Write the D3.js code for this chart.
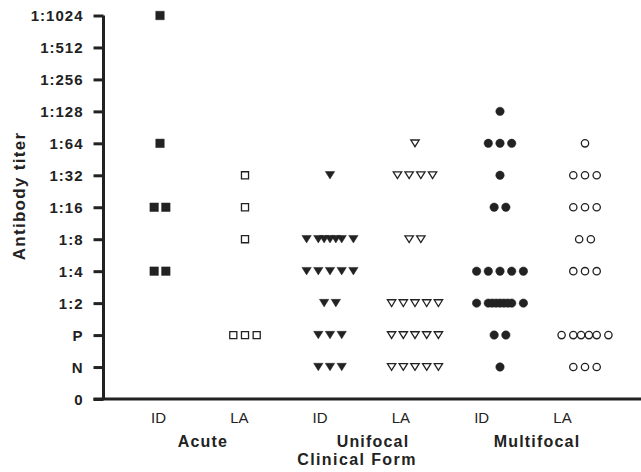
<!DOCTYPE html>
<html>
<head>
<meta charset="utf-8">
<script src="https://cdn.jsdelivr.net/npm/d3@7"></script>
<style>
    body { margin: 0; background: #fff; }
    svg { display: block; font-family: "Liberation Sans", Arial, sans-serif; }
</style>
</head>
<body>
<svg id="chart"></svg>
<script>
const W = 641;
const H = 472;
const margin = { top: 15.5, right: 0, bottom: 73, left: 103.5 };

// titer levels, bottom to top
const titers = ["0", "N", "P", "1:2", "1:4", "1:8", "1:16", "1:32", "1:64", "1:128", "1:256", "1:512", "1:1024"];
const subgroups = ["ID", "LA", "ID", "LA", "ID", "LA"];
const forms = ["Acute", "Unifocal", "Multifocal"];

// one entry per animal
const acuteID = ["1:1024", "1:64", "1:16", "1:16", "1:4", "1:4"];
const acuteLA = ["1:32", "1:16", "1:8", "P", "P", "P"];
const unifocalID = ["1:32",
    "1:8", "1:8", "1:8", "1:8", "1:8", "1:8", "1:8",
    "1:4", "1:4", "1:4", "1:4", "1:4",
    "1:2", "1:2",
    "P", "P", "P",
    "N", "N", "N"];
const unifocalLA = ["1:64",
    "1:32", "1:32", "1:32", "1:32",
    "1:8", "1:8",
    "1:2", "1:2", "1:2", "1:2", "1:2",
    "P", "P", "P", "P", "P",
    "N", "N", "N", "N", "N"];
const multifocalID = ["1:128",
    "1:64", "1:64", "1:64",
    "1:32",
    "1:16", "1:16",
    "1:4", "1:4", "1:4", "1:4", "1:4",
    "1:2", "1:2", "1:2", "1:2", "1:2", "1:2", "1:2", "1:2", "1:2",
    "P", "P",
    "N"];
const multifocalLA = ["1:64",
    "1:32", "1:32", "1:32",
    "1:16", "1:16", "1:16",
    "1:8", "1:8",
    "1:4", "1:4", "1:4",
    "P", "P", "P", "P", "P", "P",
    "N", "N", "N"];

const series = [acuteID, acuteLA, unifocalID, unifocalLA, multifocalID, multifocalLA];

const ink = "#222";
const font = '"Liberation Sans", Arial, sans-serif';

// downward triangle
const triangleDown = {
    draw(ctx, size) {
        const w = Math.sqrt(size * 2.2);
        const h = w * 0.8;
        ctx.moveTo(-w / 2, -h / 2);
        ctx.lineTo(w / 2, -h / 2);
        ctx.lineTo(0, h / 2);
        ctx.closePath();
    }
};

const markers = [
    { type: d3.symbolSquare, size: 72, filled: true },
    { type: d3.symbolSquare, size: 50, filled: false },
    { type: triangleDown, size: 40, filled: true },
    { type: triangleDown, size: 32, filled: false },
    { type: d3.symbolCircle, size: 56, filled: true },
    { type: d3.symbolCircle, size: 42, filled: false }
];

const innerW = W - margin.left - margin.right;
const innerH = H - margin.top - margin.bottom;

const svg = d3.select("#chart")
    .attr("width", W)
    .attr("height", H);

const g = svg.append("g")
    .attr("transform", `translate(${margin.left},${margin.top})`);

const yScale = d3.scalePoint()
    .domain(titers)
    .range([innerH, 0]);

// marker columns
const xScale = d3.scalePoint()
    .domain(d3.range(subgroups.length))
    .range([160 - margin.left, 585 - margin.left]);

// subgroup label columns (sit a little left of the markers)
const xLabel = d3.scalePoint()
    .domain(d3.range(subgroups.length))
    .range([158 - margin.left, 562 - margin.left]);

const step = 11.7;

function rowOffsets(n) {
    if (n <= 5) {
        return d3.range(n).map(i => (i - (n - 1) / 2) * step);
    }
    // crowded rows: outer markers at normal spacing, inner ones squeezed
    const offs = [-2 * step];
    const inner = n - 2;
    for (let i = 0; i < inner; i++) {
        offs.push(-step + (2 * step) * i / (inner - 1));
    }
    offs.push(2 * step);
    return offs;
}

// build points
const points = [];
series.forEach((vals, si) => {
    const rows = d3.group(vals, v => v);
    rows.forEach((arr, level) => {
        const offs = rowOffsets(arr.length);
        offs.forEach(o => points.push({ si, level, off: o }));
    });
});

// Y axis
const yAxis = g.append("g")
    .call(d3.axisLeft(yScale).tickSize(10).tickPadding(10))
    .attr("font-family", font);

yAxis.select(".domain")
    .attr("d", `M0,${innerH}V0`)
    .attr("stroke", ink)
    .attr("stroke-width", 3);

yAxis.selectAll(".tick line")
    .attr("stroke", ink)
    .attr("stroke-width", 3);

yAxis.selectAll(".tick text")
    .attr("fill", ink)
    .attr("font-size", 15)
    .attr("font-weight", "bold")
    .attr("letter-spacing", 1)
    .attr("dy", "0.36em");

// X axis line
g.append("line")
    .attr("x1", -10)
    .attr("x2", innerW)
    .attr("y1", innerH)
    .attr("y2", innerH)
    .attr("stroke", ink)
    .attr("stroke-width", 3);

// subgroup labels
g.append("g")
    .attr("transform", `translate(0,${innerH})`)
    .call(d3.axisBottom(xLabel).tickSize(0).tickPadding(0).tickFormat(i => subgroups[i]))
    .attr("font-family", font)
    .call(a => a.select(".domain").remove())
    .selectAll("text")
    .attr("y", 0)
    .attr("dy", 24)
    .attr("fill", ink)
    .attr("font-size", 15);

// clinical form labels
const formX = [203, 373, 537];
g.selectAll(".form")
    .data(forms)
    .enter()
    .append("text")
    .attr("class", "form")
    .attr("x", (d, i) => formX[i] - margin.left)
    .attr("y", innerH + 48)
    .attr("text-anchor", "middle")
    .attr("fill", ink)
    .attr("font-size", 16)
    .attr("font-weight", "bold")
    .attr("letter-spacing", 1.2)
    .text(d => d);

// axis titles
g.append("text")
    .attr("x", 357 - margin.left)
    .attr("y", innerH + 66)
    .attr("text-anchor", "middle")
    .attr("fill", ink)
    .attr("font-size", 16)
    .attr("font-weight", "bold")
    .attr("letter-spacing", 1.4)
    .text("Clinical Form");

g.append("text")
    .attr("transform", "rotate(-90)")
    .attr("x", -(196 - margin.top))
    .attr("y", 24.5 - margin.left)
    .attr("text-anchor", "middle")
    .attr("fill", ink)
    .attr("font-size", 17)
    .attr("font-weight", "bold")
    .attr("letter-spacing", 1.3)
    .text("Antibody titer");

// markers
g.selectAll(".pt")
    .data(points)
    .enter()
    .append("path")
    .attr("class", "pt")
    .attr("transform", d => `translate(${xScale(d.si) + d.off},${yScale(d.level)})`)
    .attr("d", d => d3.symbol().type(markers[d.si].type).size(markers[d.si].size)())
    .attr("fill", d => markers[d.si].filled ? ink : "#fff")
    .attr("stroke", ink)
    .attr("stroke-width", d => markers[d.si].filled ? 0.5 : 1.3);
</script>
</body>
</html>
